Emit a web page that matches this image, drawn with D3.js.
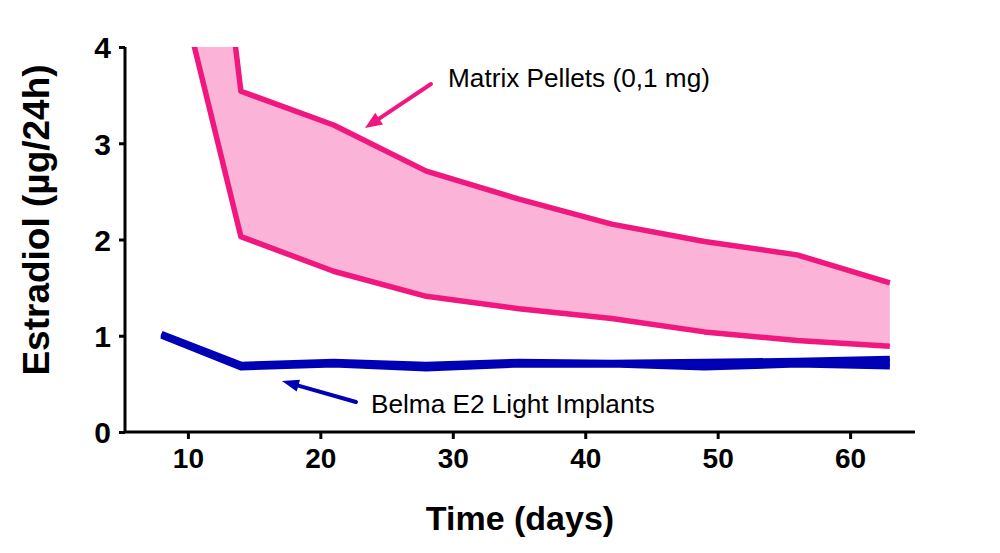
<!DOCTYPE html>
<html><head><meta charset="utf-8">
<script src="https://cdn.jsdelivr.net/npm/d3@7/dist/d3.min.js"></script>
<style>body{margin:0;background:#fff}svg{display:block}</style>
</head><body><svg id="c" width="1000" height="553"></svg>
<script>
const days = [8, 14, 21, 28, 35, 42, 49, 56, 63];
const matrixUpper = [10.4, 3.54, 3.19, 2.71, 2.42, 2.16, 1.98, 1.84, 1.55];
const matrixLower = [5.4, 2.03, 1.67, 1.41, 1.28, 1.18, 1.04, 0.95, 0.89];
const belmaUpper = [1.02, 0.70, 0.73, 0.70, 0.73, 0.72, 0.73, 0.74, 0.76];
const belmaLower = [1.00, 0.67, 0.70, 0.66, 0.70, 0.70, 0.67, 0.70, 0.68];
const xTicks = [10, 20, 30, 40, 50, 60];
const yTicks = [0, 1, 2, 3, 4];

const svg = d3.select("#c");
const L = 125, R = 915, T = 47, B = 432;
const x = d3.scaleLinear().domain([5.25, 64.9]).range([L, R]);
const y = d3.scaleLinear().domain([0, 4]).range([B, T]);
const pink = "#f0177f", pinkFill = "#fbb3d7", blue = "#0000b4";
const FF = "Liberation Sans, Arial, sans-serif";

svg.append("defs").append("clipPath").attr("id", "clip")
  .append("rect").attr("x", L).attr("y", T).attr("width", R - L).attr("height", B - T);

const g = svg.append("g").attr("clip-path", "url(#clip)");
const idx = days.map((d, i) => i);

g.append("path").datum(idx)
  .attr("d", d3.area().x(i => x(days[i])).y0(i => y(matrixLower[i])).y1(i => y(matrixUpper[i])))
  .attr("fill", pinkFill);
[matrixUpper, matrixLower].forEach(s => {
  g.append("path").datum(idx)
    .attr("d", d3.line().x(i => x(days[i])).y(i => y(s[i])))
    .attr("fill", "none").attr("stroke", pink).attr("stroke-width", 5.5).attr("stroke-linejoin", "round");
});
g.append("path").datum(idx)
  .attr("d", d3.area().x(i => x(days[i])).y0(i => y(belmaLower[i])).y1(i => y(belmaUpper[i])))
  .attr("fill", blue);
[belmaUpper, belmaLower].forEach(s => {
  g.append("path").datum(idx)
    .attr("d", d3.line().x(i => x(days[i])).y(i => y(s[i])))
    .attr("fill", "none").attr("stroke", blue).attr("stroke-width", 6).attr("stroke-linejoin", "round");
});

// axes
const xa = svg.append("g").attr("transform", `translate(0,${B})`)
  .call(d3.axisBottom(x).tickValues(xTicks).tickFormat(d3.format("d")).tickSize(7).tickPadding(9).tickSizeOuter(0));
const ya = svg.append("g").attr("transform", `translate(${L},0)`)
  .call(d3.axisLeft(y).tickValues(yTicks).tickFormat(d3.format("d")).tickSize(6).tickPadding(8).tickSizeOuter(0));
[xa, ya].forEach(a => {
  a.select(".domain").attr("stroke", "#000").attr("stroke-width", 3);
  a.selectAll(".tick line").attr("stroke", "#000").attr("stroke-width", 3);
  a.selectAll(".tick text").attr("fill", "#000").attr("font-family", FF).attr("font-weight", "bold");
});
xa.select(".domain").attr("d", `M${L},0H${R}`);
ya.select(".domain").attr("d", `M0,${T}V${B}`);
xa.selectAll(".tick text").attr("font-size", 28);
ya.selectAll(".tick text").attr("font-size", 30).attr("dy", "0.36em");

svg.append("text").attr("x", 520).attr("y", 530).attr("text-anchor", "middle")
  .attr("font-family", FF).attr("font-weight", "bold")
  .attr("font-size", 34).text("Time (days)");
svg.append("text").attr("transform", "translate(49,220) rotate(-90)").attr("text-anchor", "middle")
  .attr("font-family", FF).attr("font-weight", "bold")
  .attr("font-size", 37).text("Estradiol (µg/24h)");

// annotations
svg.append("text").attr("x", 448).attr("y", 87)
  .attr("font-family", FF).attr("font-size", 26.2).attr("fill", "#000")
  .text("Matrix Pellets (0,1 mg)");
svg.append("text").attr("x", 371).attr("y", 413)
  .attr("font-family", FF).attr("font-size", 26.2).attr("fill", "#000")
  .text("Belma E2 Light Implants");

function arrow(x1, y1, x2, y2, col, w, hl, hw) {
  const a = Math.atan2(y2 - y1, x2 - x1);
  const bx = x2 - hl * Math.cos(a), by = y2 - hl * Math.sin(a);
  svg.append("line").attr("x1", x1).attr("y1", y1).attr("x2", bx).attr("y2", by)
    .attr("stroke", col).attr("stroke-width", w).attr("stroke-linecap", "round");
  const px = -Math.sin(a) * hw, py = Math.cos(a) * hw;
  svg.append("path").attr("d", `M${x2},${y2}L${bx + px},${by + py}L${bx - px},${by - py}Z`).attr("fill", col);
}
arrow(431, 84, 365, 128, pink, 4, 17, 7);
arrow(356, 402, 282, 381, blue, 4, 17, 6);
</script></body></html>
